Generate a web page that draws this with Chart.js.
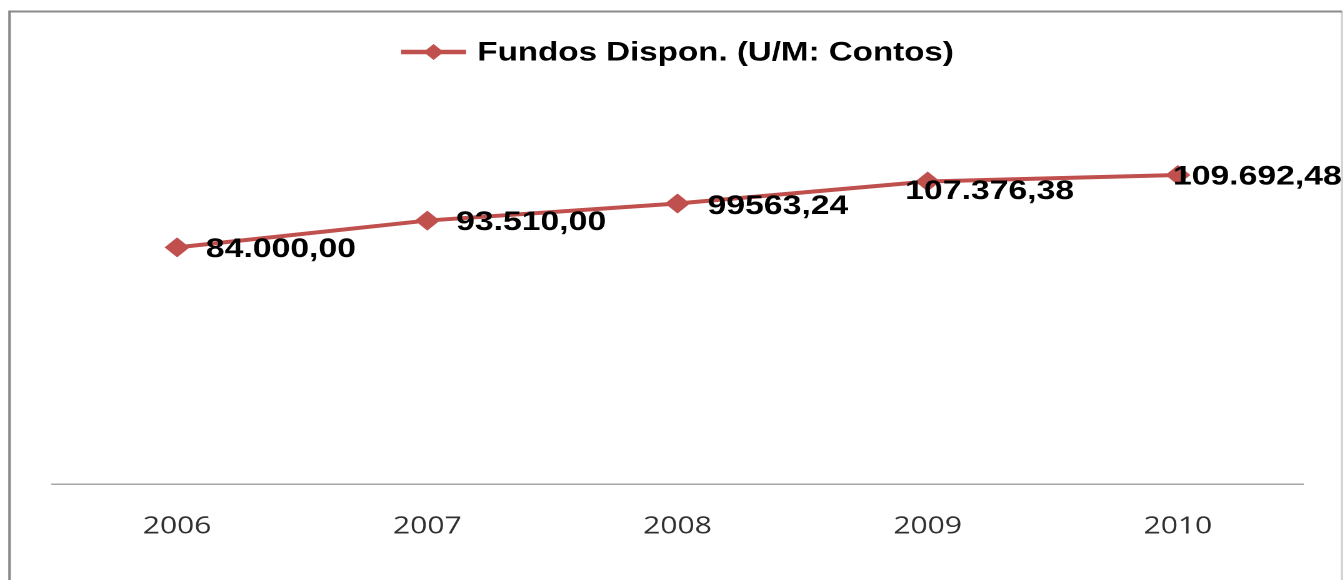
<!DOCTYPE html>
<html>
<head>
<meta charset="utf-8">
<title>Fundos Dispon.</title>
<script src="https://cdn.jsdelivr.net/npm/chart.js@4/dist/chart.umd.min.js"></script>
<style>
  html, body { margin: 0; padding: 0; background: #fff; overflow: hidden; }
  /* the source picture is stretched sideways, so the whole chart is too */
  #wrap { width: 1075px; height: 580px; transform: scaleX(1.25); transform-origin: 0 0; }
</style>
</head>
<body>
<div id="wrap"><canvas id="fundosChart"></canvas></div>
<script>
const years = ["2006", "2007", "2008", "2009", "2010"];
const fundos = [84000, 93510, 99563.24, 107376.38, 109692.48];
const valueLabels = ["84.000,00", "93.510,00", "99563,24", "107.376,38", "109.692,48"];
const seriesName = "Fundos Dispon. (U/M: Contos)";

const RED = "#C0504D";
// where each value label sits relative to its point
const labelOffsets = [[23, 1], [23, 1], [24, 2], [-18, 9], [-4, 1]];

const frame = {
  id: "frame",
  beforeDraw(chart) {
    const { ctx } = chart;
    ctx.save();
    ctx.fillStyle = "#fff";
    ctx.fillRect(0, 0, chart.width, chart.height);
    ctx.lineWidth = 2;
    ctx.strokeStyle = "#d4d4d4";
    ctx.beginPath();
    ctx.moveTo(1073.6, 11.5);
    ctx.lineTo(1073.6, chart.height + 5);
    ctx.stroke();
    ctx.strokeStyle = "#8a8a8a";
    ctx.beginPath();
    ctx.moveTo(7.6, chart.height + 5);
    ctx.lineTo(7.6, 11.5);
    ctx.lineTo(1073.6, 11.5);
    ctx.stroke();
    ctx.restore();
  },
};

const legendLine = {
  id: "legendLine",
  afterDraw(chart) {
    const { ctx, chartArea } = chart;
    ctx.save();
    ctx.font = 'bold 26.5px "Liberation Sans", Arial, sans-serif';
    const lineW = 52, gap = 9;
    const w = lineW + gap + ctx.measureText(seriesName).width;
    const x0 = (chartArea.left + chartArea.right) / 2 - w / 2;
    const y = 52;
    ctx.strokeStyle = RED;
    ctx.lineWidth = 4.5;
    ctx.beginPath();
    ctx.moveTo(x0, y);
    ctx.lineTo(x0 + lineW, y);
    ctx.stroke();
    const cx = x0 + lineW / 2, r = 8;
    ctx.fillStyle = RED;
    ctx.beginPath();
    ctx.moveTo(cx, y - r);
    ctx.lineTo(cx + r, y);
    ctx.lineTo(cx, y + r);
    ctx.lineTo(cx - r, y);
    ctx.closePath();
    ctx.fill();
    ctx.fillStyle = "#000";
    ctx.textAlign = "left";
    ctx.textBaseline = "middle";
    ctx.fillText(seriesName, x0 + lineW + gap, y + 1);
    ctx.restore();
  },
};

const valueTags = {
  id: "valueTags",
  afterDatasetsDraw(chart) {
    const { ctx } = chart;
    const meta = chart.getDatasetMeta(0);
    ctx.save();
    ctx.font = 'bold 27px "Liberation Sans", Arial, sans-serif';
    ctx.fillStyle = "#000";
    ctx.textAlign = "left";
    ctx.textBaseline = "middle";
    meta.data.forEach((pt, i) => {
      const [dx, dy] = labelOffsets[i];
      ctx.fillText(valueLabels[i], pt.x + dx, pt.y + dy + 1);
    });
    ctx.restore();
  },
};

new Chart(document.getElementById("fundosChart"), {
  type: "line",
  data: {
    labels: years,
    datasets: [
      {
        label: seriesName,
        data: fundos,
        borderColor: RED,
        backgroundColor: RED,
        borderWidth: 4,
        pointStyle: "rectRot",
        pointRadius: 10,
        pointBorderWidth: 0,
        pointBackgroundColor: RED,
        tension: 0,
      },
    ],
  },
  options: {
    responsive: true,
    maintainAspectRatio: false,
    animation: false,
    devicePixelRatio: 2,
    layout: { padding: { left: 41.6, right: 32.6, top: 89.5, bottom: 11 } },
    plugins: { legend: { display: false }, tooltip: { enabled: false } },
    scales: {
      x: {
        offset: true,
        grid: { display: false, drawTicks: false },
        border: { display: true, color: "#a6a6a6", width: 1.5 },
        ticks: {
          color: "#303030",
          padding: 28,
          font: { family: '"Open Sans", sans-serif', size: 24 },
        },
      },
      y: { display: false, min: 0, max: 140000 },
    },
  },
  plugins: [frame, legendLine, valueTags],
});
</script>
</body>
</html>
